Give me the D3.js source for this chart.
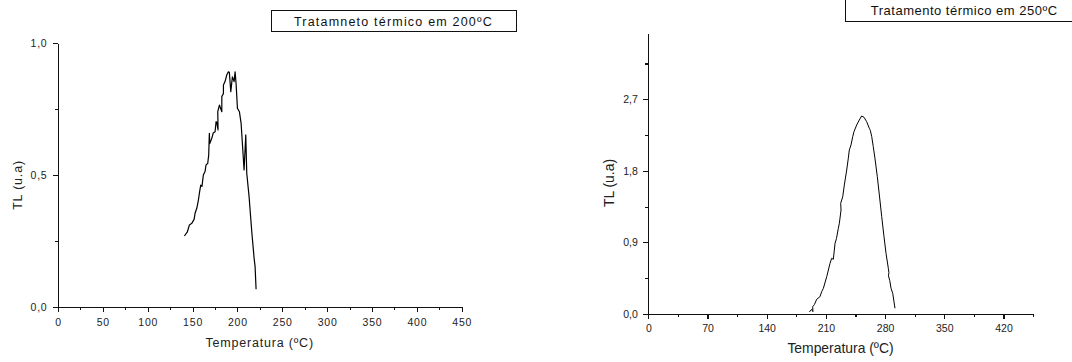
<!DOCTYPE html>
<html>
<head>
<meta charset="utf-8">
<script src="https://cdn.jsdelivr.net/npm/d3@7"></script>
<style>
  body { margin: 0; background: #fff; }
  svg { display: block; font-family: "Liberation Sans", Arial, sans-serif; }
  .axis path, .axis line { stroke: #111; stroke-width: 1.1; shape-rendering: crispEdges; }
  .axis text { fill: #222; }
</style>
</head>
<body>
<svg width="1072" height="362"></svg>
<script>
// TL glow curve, treatment at 200ºC
var temp200 = [140.9, 144.2, 146.5, 149.1, 151.7, 152.8, 154.7, 156.5, 157.6, 159.1, 160.5, 162, 163.9, 165, 166.9, 168,
  168.7, 169.2, 171.4, 173, 175.1, 176.2, 177, 178.4, 178.1, 179.9, 182.6, 182.6, 184.4, 184.4, 186.2, 188.1, 189.9, 191,
  192.6, 194.4, 196.3, 197.4, 198.5, 200, 202.2, 204.1, 206, 207.4, 208.5, 209.3, 210.4, 213, 216, 218.6, 219.7, 220.8];
var tl200 = [0.27, 0.286, 0.312, 0.318, 0.333, 0.356, 0.375, 0.406, 0.432, 0.463, 0.458, 0.501, 0.514, 0.539, 0.545, 0.577,
  0.659, 0.62, 0.64, 0.66, 0.665, 0.703, 0.70, 0.672, 0.741, 0.766, 0.741, 0.798, 0.81, 0.842, 0.855, 0.88, 0.892, 0.89,
  0.817, 0.873, 0.855, 0.892, 0.848, 0.754, 0.741, 0.697, 0.596, 0.52, 0.596, 0.653, 0.508, 0.419, 0.286, 0.186, 0.154, 0.068];

// TL glow curve, treatment at 250ºC
var temp250 = [190.4, 193.2, 194.6, 194.4, 196.5, 199.1, 203, 205, 207, 211, 214.9, 216.8, 218.8, 220.8, 222.5, 224.7,
  225.9, 227.9, 227.5, 229.9, 231.8, 234.6, 236.5, 237.7, 239.7, 241.7, 243.2, 246.4, 249.5, 252.3, 255, 258.2, 261.3,
  262.5, 264.2, 266, 268, 270.8, 273.2, 276, 278.7, 281.1, 283.8, 284.5, 284, 285.5, 287, 289, 291.7];
var tl250 = [0.025, 0.059, 0.03, 0.092, 0.12, 0.185, 0.218, 0.28, 0.323, 0.47, 0.638, 0.70, 0.688, 0.889, 0.95, 1.078,
  1.141, 1.308, 1.392, 1.475, 1.623, 1.811, 1.958, 2.063, 2.126, 2.23, 2.293, 2.377, 2.44, 2.49, 2.474, 2.419, 2.336,
  2.31, 2.23, 2.104, 1.958, 1.727, 1.497, 1.224, 0.972, 0.763, 0.575, 0.52, 0.48, 0.42, 0.323, 0.26, 0.072];

// tick labels
var xTicks200 = [0, 50, 100, 150, 200, 250, 300, 350, 400, 450];
var yTicks200 = [0, 0.5, 1.0];
var xTicks250 = [0, 70, 140, 210, 280, 350, 420];
var yTicks250 = [0, 0.9, 1.8, 2.7];

var svg = d3.select("svg");
var fmt = function(d) { return d3.format(".1f")(d).replace(".", ","); };

function drawChart(o) {
  var g = svg.append("g");
  var x = d3.scaleLinear().domain(o.xDomain).range(o.xRange);
  var y = d3.scaleLinear().domain(o.yDomain).range(o.yRange);

  // minor ticks first
  g.append("g").attr("class", "axis")
    .attr("transform", "translate(0," + o.yRange[0] + ")")
    .call(d3.axisBottom(x).tickValues(o.xMinor).tickSize(3).tickFormat(""))
    .select(".domain").remove();
  g.append("g").attr("class", "axis")
    .attr("transform", "translate(" + o.xRange[0] + ",0)")
    .call(d3.axisLeft(y).tickValues(o.yMinor).tickSize(3).tickFormat(""))
    .select(".domain").remove();

  var xa = g.append("g").attr("class", "axis")
    .attr("transform", "translate(0," + o.yRange[0] + ")")
    .call(d3.axisBottom(x).tickValues(o.xTicks).tickSize(5).tickSizeOuter(0).tickPadding(6)
      .tickFormat(d3.format("d")));
  var ya = g.append("g").attr("class", "axis")
    .attr("transform", "translate(" + o.xRange[0] + ",0)")
    .call(d3.axisLeft(y).tickValues(o.yTicks).tickSize(5).tickSizeOuter(0).tickPadding(5.5)
      .tickFormat(fmt));
  xa.selectAll("text").style("font-size", o.tickFont + "px").style("letter-spacing", o.spacing + "px");
  ya.selectAll("text").style("font-size", o.tickFont + "px").style("letter-spacing", o.spacing + "px");

  // curve
  var pts = d3.zip(o.temps, o.vals);
  g.append("path")
    .datum(pts)
    .attr("fill", "none")
    .attr("stroke", "#000")
    .attr("stroke-width", o.lineWidth)
    .attr("stroke-linejoin", "round")
    .attr("d", d3.line().x(function(d) { return x(d[0]); }).y(function(d) { return y(d[1]); }));

  // axis titles
  g.append("text")
    .attr("x", o.xTitle[0]).attr("y", o.xTitle[1])
    .attr("text-anchor", "middle")
    .style("font-size", o.titleFont + "px")
    .style("letter-spacing", o.spacing + "px")
    .attr("fill", "#222")
    .text("Temperatura (ºC)");
  g.append("text")
    .attr("transform", "translate(" + o.yTitle[0] + "," + o.yTitle[1] + ") rotate(-90)")
    .attr("text-anchor", "middle")
    .style("font-size", o.titleFont + "px")
    .style("letter-spacing", o.spacing + "px")
    .attr("fill", "#222")
    .text("TL (u.a)");

  // legend box
  g.append("rect")
    .attr("x", o.box[0]).attr("y", o.box[1])
    .attr("width", o.box[2]).attr("height", o.box[3])
    .attr("fill", "none").attr("stroke", "#111").attr("stroke-width", 1)
    .attr("shape-rendering", "crispEdges");
  g.append("text")
    .attr("x", o.boxText[0]).attr("y", o.boxText[1])
    .attr("text-anchor", "middle")
    .style("font-size", o.boxFont + "px")
    .style("letter-spacing", o.boxSpacing + "px")
    .attr("fill", "#111")
    .text(o.label);
}

drawChart({
  temps: temp200, vals: tl200,
  xDomain: [0, 450], xRange: [58, 461.7],
  yDomain: [0, 1], yRange: [307.3, 43.3],
  xTicks: xTicks200, yTicks: yTicks200,
  xMinor: d3.range(25, 450, 50), yMinor: [0.25, 0.75],
  tickFont: 10.5, titleFont: 12.5, spacing: 0.8, lineWidth: 1.2,
  xTitle: [259.7, 347.3], yTitle: [22, 185],
  box: [271.5, 10.5, 245, 21], boxText: [393.5, 26], boxFont: 12.5, boxSpacing: 1.2,
  label: "Tratamneto térmico em 200ºC"
});

drawChart({
  temps: temp250, vals: tl250,
  xDomain: [0, 455], xRange: [648.3, 1033.1],
  yDomain: [0, 3.53], yRange: [314, 33.3],
  xTicks: xTicks250, yTicks: yTicks250,
  xMinor: d3.range(35, 456, 70), yMinor: [0.45, 1.35, 2.25, 3.15],
  tickFont: 10.5, titleFont: 13.9, spacing: 0, lineWidth: 1,
  xTitle: [840.5, 353.3], yTitle: [614, 183],
  box: [845.5, -2, 240, 23], boxText: [964.2, 15], boxFont: 13, boxSpacing: 0.5,
  label: "Tratamento térmico em 250ºC"
});
</script>
</body>
</html>
